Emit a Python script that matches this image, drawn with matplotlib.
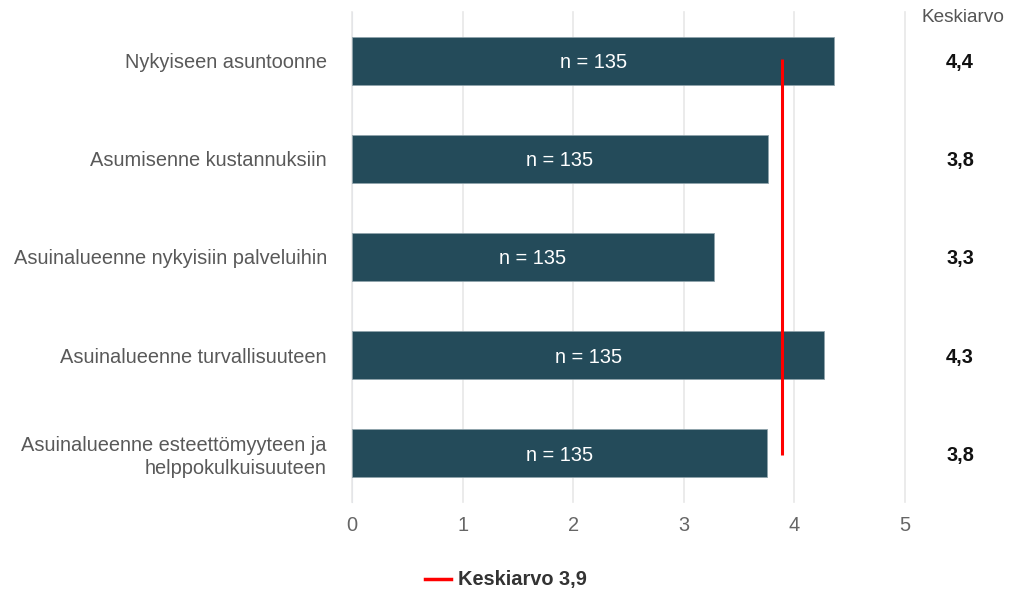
import matplotlib.pyplot as plt
import numpy as np

plt.rcParams['font.family'] = ['Liberation Sans', 'DejaVu Sans']

categories = ["Nykyiseen asuntoonne",
              "Asumisenne kustannuksiin",
              "Asuinalueenne nykyisiin palveluihin",
              "Asuinalueenne turvallisuuteen",
              "Asuinalueenne esteettömyyteen ja\nhelppokulkuisuuteen"]
values = [4.36, 3.76, 3.27, 4.27, 3.75]
mean_labels = ["4,4", "3,8", "3,3", "4,3", "3,8"]
n_values = [135, 135, 135, 135, 135]
overall_mean = 3.89
overall_label = "Keskiarvo 3,9"

fs = 14.4

fig = plt.figure(figsize=(10.1, 5.9), dpi=100)
ax = fig.add_axes([0.3485, 0.149, 0.5475, 0.831])

y = np.arange(len(categories))
ax.barh(y, values, height=0.49, color='#244b5a', edgecolor='#8fa3ab', linewidth=0.6, zorder=2)
for yi, v, n in zip(y, values, n_values):
    ax.text(v / 2, yi, f"n = {n}", ha='center', va='center_baseline', color='white', fontsize=fs, zorder=3)

ax.vlines(overall_mean, y[0] - 0.02, y[-1] + 0.02, color='#ff0000', linewidth=2.2, zorder=4)

ax.set_xlim(0, 5)
ax.set_ylim(len(categories) - 0.5, -0.5)
ax.set_xticks(range(6))
ax.set_yticks(y)
ax.set_yticklabels(categories, fontsize=fs, color='#595959', linespacing=1.25)
ax.tick_params(axis='x', colors='#666666', labelsize=fs, length=0, pad=10)
ax.tick_params(axis='y', length=0, pad=18)
ax.grid(axis='x', color='#e8e8e8', linewidth=1.2, zorder=0)
for gl in ax.get_xgridlines():
    gl.set_clip_on(False)
for s in ['top', 'right', 'bottom']:
    ax.spines[s].set_visible(False)
ax.spines['left'].set_color('#d5dbe8')
ax.spines['left'].set_zorder(1)

# mean column
fig.text(963 / 1010, 1 - 18 / 590, "Keskiarvo", ha='center', va='center', fontsize=fs * 0.95, color='#555555')
for yi, lab in zip(y, mean_labels):
    ty = ax.transData.transform((0, yi))[1]
    fig.text(960 / 1010, ty / fig.dpi / fig.get_figheight(), lab, ha='center', va='center_baseline',
             fontsize=fs, fontweight='bold', color='#111111')

# legend
fig.add_artist(plt.Line2D([425 / 1010, 451 / 1010], [1 - 579 / 590] * 2, color='#ff0000', linewidth=2.5))
fig.text(458 / 1010, 1 - 579 / 590, overall_label, ha='left', va='center', fontsize=fs,
         fontweight='bold', color='#333333')

fig.savefig("out.png", dpi=100)
